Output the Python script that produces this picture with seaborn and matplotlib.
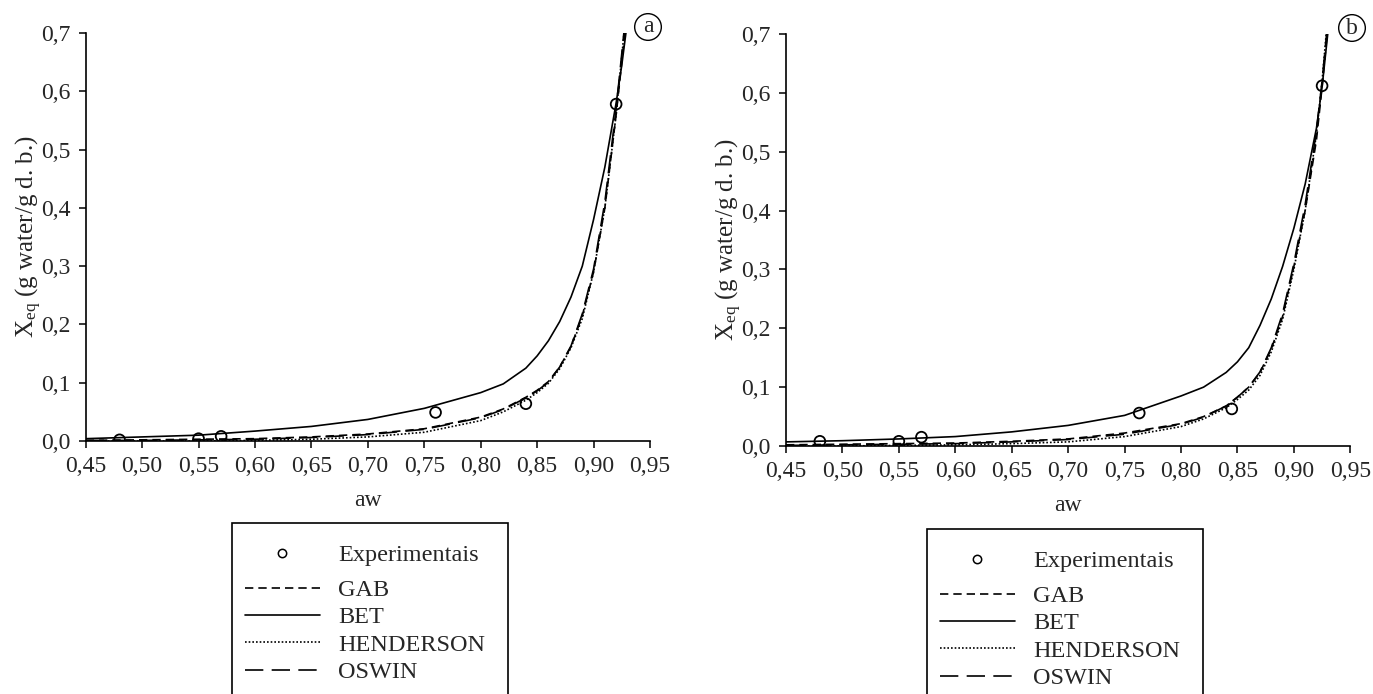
import numpy as np
import matplotlib
matplotlib.use("Agg")
import matplotlib.pyplot as plt
import seaborn as sns
from matplotlib.lines import Line2D
from matplotlib.patches import Rectangle
from matplotlib.legend_handler import HandlerLine2D

sns.set_style("ticks")
plt.rcParams['font.family'] = ['Liberation Serif', 'DejaVu Serif']
plt.rcParams['mathtext.default'] = 'regular'

# water activity grid of the fitted curves
aw_fit = [0.45, 0.50, 0.55, 0.60, 0.65, 0.70, 0.75, 0.80, 0.82, 0.84,
          0.85, 0.86, 0.87, 0.88, 0.89, 0.90, 0.91, 0.92, 0.925, 0.93]

# panel a
aw_exp_a = [0.48, 0.55, 0.57, 0.76, 0.84, 0.92]
x_exp_a = [0.002, 0.004, 0.008, 0.049, 0.064, 0.578]
gab_a = [0.001, 0.002, 0.003, 0.004, 0.007, 0.012, 0.021, 0.041, 0.055, 0.075,
         0.087, 0.102, 0.127, 0.162, 0.215, 0.29, 0.40, 0.56, 0.65, 0.74]
bet_a = [0.004, 0.007, 0.010, 0.017, 0.025, 0.037, 0.056, 0.083, 0.098, 0.125,
         0.146, 0.172, 0.205, 0.247, 0.30, 0.38, 0.47, 0.58, 0.645, 0.72]
hend_a = [0.0, 0.0, 0.0, 0.001, 0.003, 0.007, 0.015, 0.035, 0.05, 0.07,
          0.083, 0.099, 0.124, 0.16, 0.21, 0.29, 0.40, 0.56, 0.66, 0.76]
osw_a = [0.001, 0.001, 0.002, 0.003, 0.006, 0.011, 0.020, 0.040, 0.054, 0.074,
         0.086, 0.101, 0.127, 0.163, 0.218, 0.295, 0.41, 0.57, 0.665, 0.76]

# panel b
aw_exp_b = [0.48, 0.55, 0.57, 0.763, 0.845, 0.925]
x_exp_b = [0.008, 0.008, 0.015, 0.056, 0.063, 0.612]
gab_b = [0.002, 0.003, 0.004, 0.005, 0.008, 0.012, 0.022, 0.038, 0.05, 0.068,
         0.083, 0.10, 0.125, 0.165, 0.22, 0.305, 0.40, 0.52, 0.61, 0.71]
bet_b = [0.007, 0.009, 0.012, 0.016, 0.024, 0.035, 0.052, 0.085, 0.10, 0.125,
         0.143, 0.167, 0.205, 0.25, 0.305, 0.37, 0.445, 0.54, 0.61, 0.70]
hend_b = [0.0, 0.0, 0.001, 0.002, 0.004, 0.007, 0.016, 0.033, 0.046, 0.065,
          0.079, 0.095, 0.12, 0.16, 0.215, 0.30, 0.40, 0.53, 0.62, 0.73]
osw_b = [0.001, 0.002, 0.003, 0.004, 0.007, 0.011, 0.020, 0.037, 0.049, 0.068,
         0.083, 0.10, 0.126, 0.167, 0.225, 0.31, 0.41, 0.535, 0.62, 0.72]

xticks = [0.45, 0.50, 0.55, 0.60, 0.65, 0.70, 0.75, 0.80, 0.85, 0.90, 0.95]
xticklabels = ['0,45', '0,50', '0,55', '0,60', '0,65', '0,70', '0,75',
               '0,80', '0,85', '0,90', '0,95']
yticks = [0.0, 0.1, 0.2, 0.3, 0.4, 0.5, 0.6, 0.7]
yticklabels = ['0,0', '0,1', '0,2', '0,3', '0,4', '0,5', '0,6', '0,7']

series_names = ['GAB', 'BET', 'HENDERSON', 'OSWIN']
styles = [(0, (5, 3)), '-', (0, (1, 1.2)), (0, (11, 5))]

W, H = 1373, 694
fig = plt.figure(figsize=(W / 100, H / 100), dpi=100)
ax1 = fig.add_axes([85.7 / W, 1 - 441 / H, 564.3 / W, 408 / H])
ax2 = fig.add_axes([786 / W, 1 - 446 / H, 564.3 / W, 412 / H])


class RightMarker(HandlerLine2D):
    def get_xdata(self, legend, xdescent, ydescent, width, height, fontsize):
        xd, _ = super().get_xdata(legend, xdescent, ydescent, width, height, fontsize)
        return xd, np.array([-xdescent + 0.83 * width])


panels = [
    (ax1, aw_exp_a, x_exp_a, [gab_a, bet_a, hend_a, osw_a], 'a', 648, 27, 231.7, 523),
    (ax2, aw_exp_b, x_exp_b, [gab_b, bet_b, hend_b, osw_b], 'b', 1352, 28, 926.7, 529),
]

for ax, awe, xe, curves, letter, lx, ly, bx, by in panels:
    for ys, ls in zip(curves, styles):
        sns.lineplot(x=aw_fit, y=ys, ax=ax, color='black', linestyle=ls, lw=1.2)
    sns.scatterplot(x=awe, y=xe, ax=ax, marker='o', s=60, fc='none',
                    ec='black', linewidth=1.3, zorder=5)
    ax.set_xlim(0.45, 0.95)
    ax.set_ylim(0, 0.7)
    ax.set_xticks(xticks)
    ax.set_xticklabels(xticklabels)
    ax.set_yticks(yticks)
    ax.set_yticklabels(yticklabels)
    ax.tick_params(labelsize=17, length=5, width=1.1, color='black', pad=6)
    ax.set_xlabel('aw', fontsize=17, labelpad=9)
    ax.set_ylabel('X$_{eq}$ (g water/g d. b.)', fontsize=18, labelpad=-2)
    sns.despine(ax=ax)
    for sp in ['left', 'bottom']:
        ax.spines[sp].set_linewidth(1.2)
        ax.spines[sp].set_color('black')

    fig.text(lx / W, 1 - ly / H, letter, fontsize=17, ha='center', va='center',
             bbox=dict(boxstyle='circle,pad=0.12', fc='white', ec='black', lw=1.0))

    # legend frame (cut by the bottom of the figure)
    fig.patches.append(Rectangle((bx / W, -0.05), 276 / W, 1 - by / H + 0.05,
                                 transform=fig.transFigure, fill=False,
                                 ec='black', lw=1.2))
    exp_handle = Line2D([], [], ls='none', marker='o', ms=6, mfc='none',
                        mec='black', mew=1.1)
    fig.legend([exp_handle], ['Experimentais'], loc='upper left',
               bbox_to_anchor=((bx + 13) / W, 1 - (by + 21) / H),
               frameon=False, fontsize=17.5, handlelength=3.1, handletextpad=0.75,
               borderpad=0, borderaxespad=0,
               handler_map={exp_handle: RightMarker(numpoints=1)})
    line_handles = [Line2D([], [], color='black', ls=ls, lw=1.2) for ls in styles]
    fig.legend(line_handles, series_names, loc='upper left',
               bbox_to_anchor=((bx + 13) / W, 1 - (by + 56) / H),
               frameon=False, fontsize=17.5, handlelength=3.1, handletextpad=0.75,
               labelspacing=0.22, borderpad=0, borderaxespad=0)

fig.savefig('out.png', dpi=100)
